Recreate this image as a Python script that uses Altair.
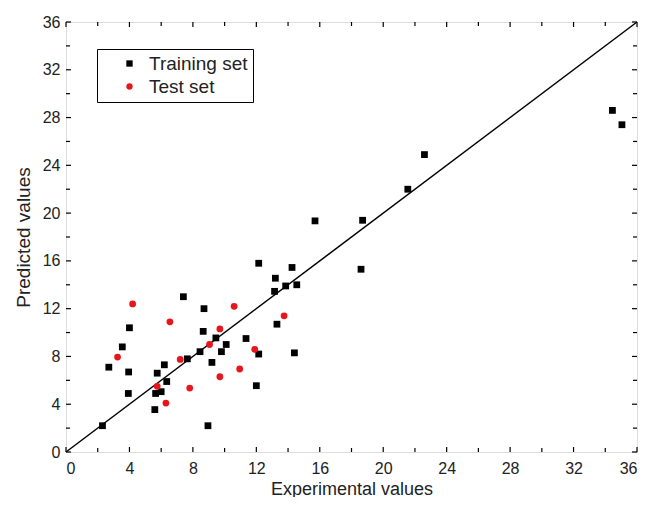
import altair as alt
import pandas as pd

# Training set (experimental, predicted)
train_x = [2.3, 2.7, 3.55, 4.0, 3.95, 3.93, 7.4, 8.7, 8.65, 9.45, 10.1, 9.8, 8.45, 7.65, 9.2,
           6.2, 5.75, 6.35, 6.0, 5.65, 5.6, 8.95, 11.35, 12.0, 12.15, 12.15, 14.25, 13.2,
           13.85, 14.55, 13.15, 13.3, 14.4, 15.7, 18.7, 18.6, 21.55, 22.6, 34.45, 35.05]
train_y = [2.2, 7.1, 8.8, 10.4, 6.7, 4.9, 13.0, 12.0, 10.1, 9.55, 9.0, 8.4, 8.4, 7.8, 7.5,
           7.3, 6.6, 5.9, 5.05, 4.9, 3.55, 2.2, 9.5, 5.55, 8.2, 15.8, 15.45, 14.55,
           13.9, 14.0, 13.45, 10.7, 8.3, 19.35, 19.4, 15.3, 22.0, 24.9, 28.6, 27.4]

# Test set
test_x = [4.2, 3.25, 6.55, 7.2, 5.75, 6.3, 7.8, 9.05, 9.7, 9.7, 10.95, 10.6, 11.9, 13.75]
test_y = [12.4, 7.95, 10.9, 7.75, 5.5, 4.1, 5.35, 9.0, 10.3, 6.3, 6.95, 12.2, 8.6, 11.4]

series_names = ["Training set", "Test set"]
diag = [0, 36]
major_ticks = list(range(0, 37, 4))
minor_ticks = list(range(2, 36, 4))

W, H = 571, 430
FONT = "Liberation Sans"

pts = pd.DataFrame({
    "x": train_x + test_x,
    "y": train_y + test_y,
    "set": [series_names[0]] * len(train_x) + [series_names[1]] * len(test_x),
})
line_df = pd.DataFrame({"x": diag, "y": diag})
maj_df = pd.DataFrame({"t": major_ticks})
min_df = pd.DataFrame({"t": minor_ticks})

xscale = alt.Scale(domain=[0, 36], nice=False, zero=False)
yscale = alt.Scale(domain=[0, 36], nice=False, zero=False)

xaxis = alt.Axis(values=major_ticks, tickSize=0, domain=False, grid=False,
                 labelFontSize=16, labelPadding=8, labelColor="#222",
                 title="Experimental values", titleFontSize=18, titleFontWeight="normal",
                 titlePadding=4, titleColor="#222", labelFont=FONT, titleFont=FONT)
yaxis = alt.Axis(values=major_ticks, tickSize=0, domain=False, grid=False,
                 labelFontSize=16, labelPadding=6, labelColor="#222",
                 title="Predicted values", titleFontSize=19, titleFontWeight="normal",
                 titlePadding=9, titleColor="#222", labelFont=FONT, titleFont=FONT)

line = alt.Chart(line_df).mark_line(color="black", strokeWidth=1.5).encode(
    x=alt.X("x:Q", scale=xscale, axis=xaxis),
    y=alt.Y("y:Q", scale=yscale, axis=yaxis),
)

legend = alt.Legend(title=None, orient="none", legendX=31, legendY=27,
                    strokeColor="black", fillColor="white", padding=5,
                    symbolOffset=18, labelOffset=10, rowPadding=3,
                    labelFontSize=19, labelFont=FONT, labelColor="#222",
                    symbolSize=40)

points = alt.Chart(pts).mark_point(filled=True, opacity=1, size=46).encode(
    x=alt.X("x:Q", scale=xscale),
    y=alt.Y("y:Q", scale=yscale),
    color=alt.Color("set:N", scale=alt.Scale(domain=series_names, range=["black", "#e8161c"]),
                    legend=legend),
    shape=alt.Shape("set:N", scale=alt.Scale(domain=series_names, range=["square", "circle"]),
                    legend=legend),
)

def xticks(df, length):
    bottom = alt.Chart(df).mark_rule(color="black", strokeWidth=1.2).encode(
        x=alt.X("t:Q", scale=xscale), y=alt.value(H), y2=alt.value(H - length))
    top = alt.Chart(df).mark_rule(color="black", strokeWidth=1.2).encode(
        x=alt.X("t:Q", scale=xscale), y=alt.value(0), y2=alt.value(length))
    return [bottom, top]

def yticks(df, length):
    left = alt.Chart(df).mark_rule(color="black", strokeWidth=1.2).encode(
        y=alt.Y("t:Q", scale=yscale), x=alt.value(0), x2=alt.value(length))
    right = alt.Chart(df).mark_rule(color="black", strokeWidth=1.2).encode(
        y=alt.Y("t:Q", scale=yscale), x=alt.value(W), x2=alt.value(W - length))
    return [left, right]

layers = [line] + xticks(maj_df, 5) + xticks(min_df, 4) + yticks(maj_df, 5) + yticks(min_df, 4) + [points]

chart = alt.layer(*layers).properties(
    width=W, height=H,
    autosize=alt.AutoSizeParams(type="none"),
    padding={"left": 58, "top": 14, "right": 12, "bottom": 45},
).configure_view(stroke="black", strokeWidth=1.5).configure(background="white")

chart.save("out.html", embed_options={"renderer": "svg", "actions": False})
